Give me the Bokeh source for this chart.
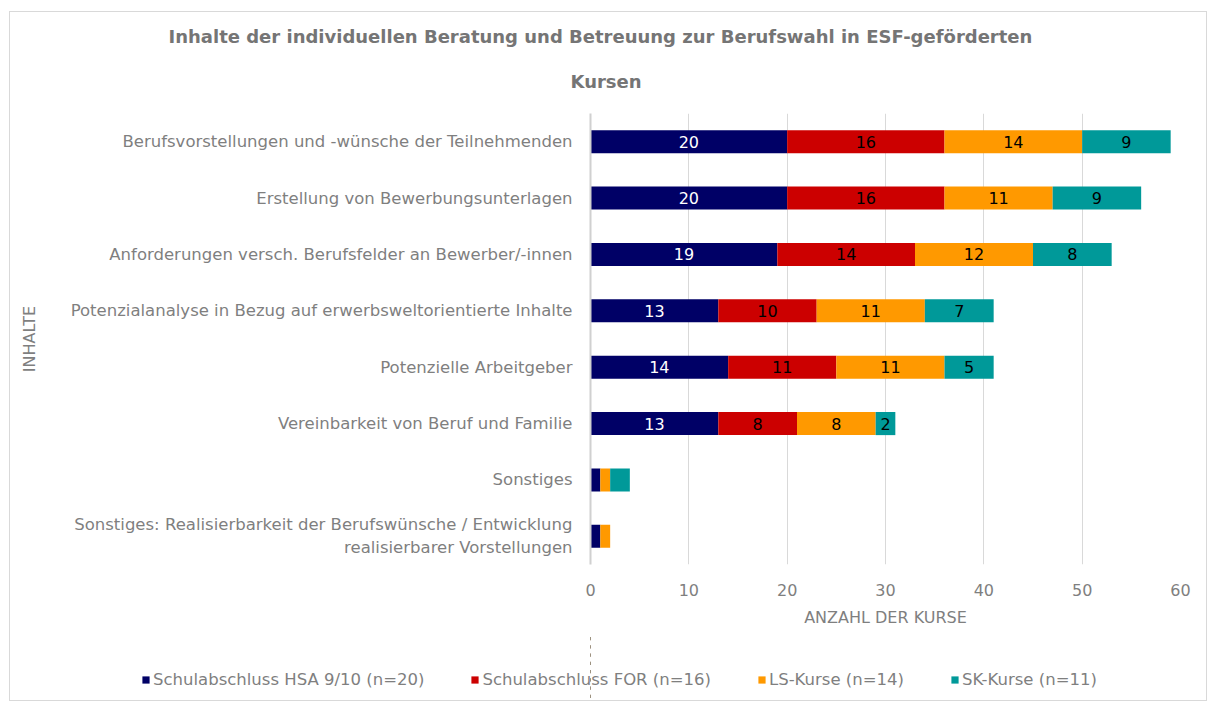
from bokeh.plotting import figure
from bokeh.layouts import column
from bokeh.models import ColumnDataSource, FactorRange, Range1d, Title, Legend, LegendItem
from bokeh.core.properties import value
from bokeh.embed import file_html
from bokeh.resources import INLINE

title_lines = ["Inhalte der individuellen Beratung und Betreuung zur Berufswahl in ESF-geförderten",
               "Kursen"]
categories = [
    "Berufsvorstellungen und -wünsche der Teilnehmenden",
    "Erstellung von Bewerbungsunterlagen",
    "Anforderungen versch. Berufsfelder an Bewerber/-innen",
    "Potenzialanalyse in Bezug auf erwerbsweltorientierte Inhalte",
    "Potenzielle Arbeitgeber",
    "Vereinbarkeit von Beruf und Familie",
    "Sonstiges",
    "Sonstiges: Realisierbarkeit der Berufswünsche / Entwicklung\nrealisierbarer Vorstellungen",
]
series_names = ["Schulabschluss HSA 9/10 (n=20)", "Schulabschluss FOR (n=16)",
                "LS-Kurse (n=14)", "SK-Kurse (n=11)"]
hsa = [20, 20, 19, 13, 14, 13, 1, 1]
for_ = [16, 16, 14, 10, 11, 8, 0, 0]
ls = [14, 11, 12, 11, 11, 8, 1, 1]
sk = [9, 9, 8, 7, 5, 2, 2, 0]
show_labels = [True, True, True, True, True, True, False, False]
x_ticks = [0, 10, 20, 30, 40, 50, 60]

colors = ["#000066", "#cc0000", "#ff9900", "#009999"]
label_colors = ["#ffffff", "#000000", "#000000", "#000000"]
FONT = "DejaVu Sans"
GRAY = "#7f7f7f"

keys = ["hsa", "for_", "ls", "sk"]
source = ColumnDataSource(dict(cat=categories, hsa=hsa, for_=for_, ls=ls, sk=sk))

# ---- main chart ----
p = figure(frame_width=590, frame_height=451, output_backend="svg", toolbar_location=None,
           y_range=FactorRange(*reversed(categories)), x_range=Range1d(0, 60),
           min_border_left=580, min_border_right=26, min_border_top=101, min_border_bottom=70)
p.outline_line_color = None

renderers = p.hbar_stack(keys, y="cat", height=0.41, color=colors, source=source,
                         line_color=None)

lx, ly, lt, lc = [], [], [], []
for i, c in enumerate(categories):
    if not show_labels[i]:
        continue
    left = 0
    for vals, col in zip([hsa, for_, ls, sk], label_colors):
        v = vals[i]
        if v > 0:
            lx.append(left + v / 2)
            ly.append(c)
            lt.append(str(v))
            lc.append(col)
        left += v
lsrc = ColumnDataSource(dict(x=lx, y=ly, t=lt, c=lc))
p.text(x="x", y="y", text="t", text_color="c", source=lsrc, text_align="center",
       text_baseline="middle", text_font=value(FONT), text_font_size="16px")

p.xaxis.ticker = x_ticks
p.xaxis.axis_line_color = None
p.xaxis.major_tick_line_color = None
p.xaxis.minor_tick_line_color = None
p.xaxis.major_label_text_font = FONT
p.xaxis.major_label_text_font_size = "16px"
p.xaxis.major_label_text_color = GRAY
p.xaxis.major_label_standoff = 13
p.xaxis.axis_label = "ANZAHL DER KURSE"
p.xaxis.axis_label_text_font = FONT
p.xaxis.axis_label_text_font_size = "16px"
p.xaxis.axis_label_text_font_style = "normal"
p.xaxis.axis_label_text_color = GRAY
p.xaxis.axis_label_standoff = 9

p.yaxis.axis_line_color = "#d0d0d0"
p.yaxis.axis_line_width = 2
p.yaxis.major_tick_line_color = None
p.yaxis.minor_tick_line_color = None
p.yaxis.major_label_text_font = FONT
p.yaxis.major_label_text_font_size = "16.5px"
p.yaxis.major_label_text_color = GRAY
p.yaxis.major_label_standoff = 12
p.yaxis.axis_label = "INHALTE"
p.yaxis.axis_label_text_font = FONT
p.yaxis.axis_label_text_font_size = "16px"
p.yaxis.axis_label_text_font_style = "normal"
p.yaxis.axis_label_text_color = GRAY
p.yaxis.axis_label_standoff = 29

p.xgrid.grid_line_color = "#d9d9d9"
p.xgrid.grid_line_width = 1
p.ygrid.grid_line_color = None

# title (two lines)
p.add_layout(Title(text=title_lines[1], align="left", offset=-20, standoff=44,
                   text_font=FONT, text_font_size="18px", text_font_style="bold",
                   text_color="#757575"), "above")
p.add_layout(Title(text=title_lines[0], align="left", offset=-422, standoff=0,
                   text_font=FONT, text_font_size="18px", text_font_style="bold",
                   text_color="#757575"), "above")

# ---- legend strip ----
pl = figure(frame_width=1196, frame_height=66, output_backend="svg", toolbar_location=None,
            x_axis_type=None, y_axis_type=None, min_border=0,
            x_range=Range1d(100, 200), y_range=FactorRange(*categories))
pl.outline_line_color = None
pl.grid.visible = False
leg_renderers = pl.hbar_stack(keys, y="cat", height=0.41, color=colors, source=source,
                              line_color=None)
items = [LegendItem(label=n, renderers=[r]) for n, r in zip(series_names, leg_renderers)]
lg = Legend(items=items, orientation="horizontal", location=(131, 11), padding=0, margin=0,
            spacing=46, glyph_width=9, glyph_height=9, label_standoff=3,
            label_text_font=FONT, label_text_font_size="16.5px", label_text_color=GRAY,
            border_line_color=None, background_fill_alpha=0)
pl.add_layout(lg, "center")

layout = column(p, pl, spacing=0,
                styles={"border": "1px solid #d9d9d9", "margin-left": "9px", "margin-top": "11px"})

open("out.html", "w").write(file_html(layout, INLINE))
